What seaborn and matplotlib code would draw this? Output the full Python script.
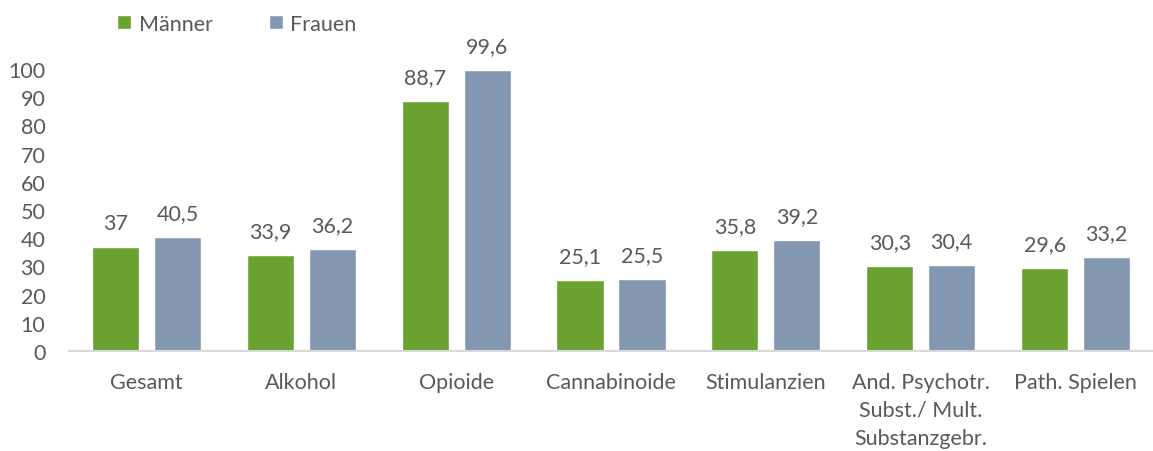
import matplotlib
matplotlib.use("Agg")
import matplotlib.pyplot as plt
import seaborn as sns
import pandas as pd
from matplotlib.patches import Patch

categories = ["Gesamt", "Alkohol", "Opioide", "Cannabinoide", "Stimulanzien",
              "And. Psychotr.\nSubst./ Mult.\nSubstanzgebr.", "Path. Spielen"]
maenner = [37.0, 33.9, 88.7, 25.1, 35.8, 30.3, 29.6]
frauen = [40.5, 36.2, 99.6, 25.5, 39.2, 30.4, 33.2]
series = ["Männer", "Frauen"]
colors = ["#6AA232", "#8497B0"]
yticks = list(range(0, 101, 10))

df = pd.DataFrame({
    "Kategorie": categories * 2,
    "Wert": maenner + frauen,
    "Geschlecht": [series[0]] * len(categories) + [series[1]] * len(categories),
})

sns.set_theme(style="white")
plt.rcParams["font.family"] = ["Lato", "DejaVu Sans"]
text_color = "#595959"
fs = 15.5

fig = plt.figure(figsize=(11.53, 4.52), dpi=100)
ax = fig.add_axes([69 / 1153, 1 - 352 / 452, 1 - 69 / 1153, (352 - 70) / 452])

sns.barplot(data=df, x="Kategorie", y="Wert", hue="Geschlecht", order=categories,
            hue_order=series, palette=colors, width=0.8, gap=0.24,
            saturation=1, legend=False, ax=ax)

for cont in ax.containers:
    for bar in cont:
        h = bar.get_height()
        lbl = f"{h:.1f}".replace(".", ",")
        if lbl.endswith(",0"):
            lbl = lbl[:-2]
        ax.annotate(lbl, (bar.get_x() + bar.get_width() / 2, h),
                    xytext=(0, 10), textcoords="offset points",
                    ha="center", va="bottom", fontsize=fs, color=text_color)

ax.set_ylim(0, 100)
ax.set_xlim(-0.5, len(categories) - 0.5)
ax.set_yticks(yticks)
ax.set_yticklabels([str(t) for t in yticks], fontsize=fs, color=text_color)
ax.tick_params(axis="y", length=0, pad=17)
ax.tick_params(axis="x", length=0, pad=15, labelsize=fs, labelcolor=text_color)
for lab in ax.get_xticklabels():
    lab.set_linespacing(1.5)
ax.set_xlabel("")
ax.set_ylabel("")
for s in ["top", "right", "left"]:
    ax.spines[s].set_visible(False)
ax.spines["bottom"].set_color("#d9d9d9")
ax.spines["bottom"].set_linewidth(1.5)

handles = [Patch(facecolor=c, label=s) for c, s in zip(colors, series)]
fig.legend(handles=handles, loc="upper left", bbox_to_anchor=(98 / 1153, 1.01),
           ncol=2, frameon=False, fontsize=fs, labelcolor=text_color,
           handlelength=0.65, handleheight=0.65, handletextpad=0.35, columnspacing=2.6)

fig.savefig("out.png", dpi=100)
